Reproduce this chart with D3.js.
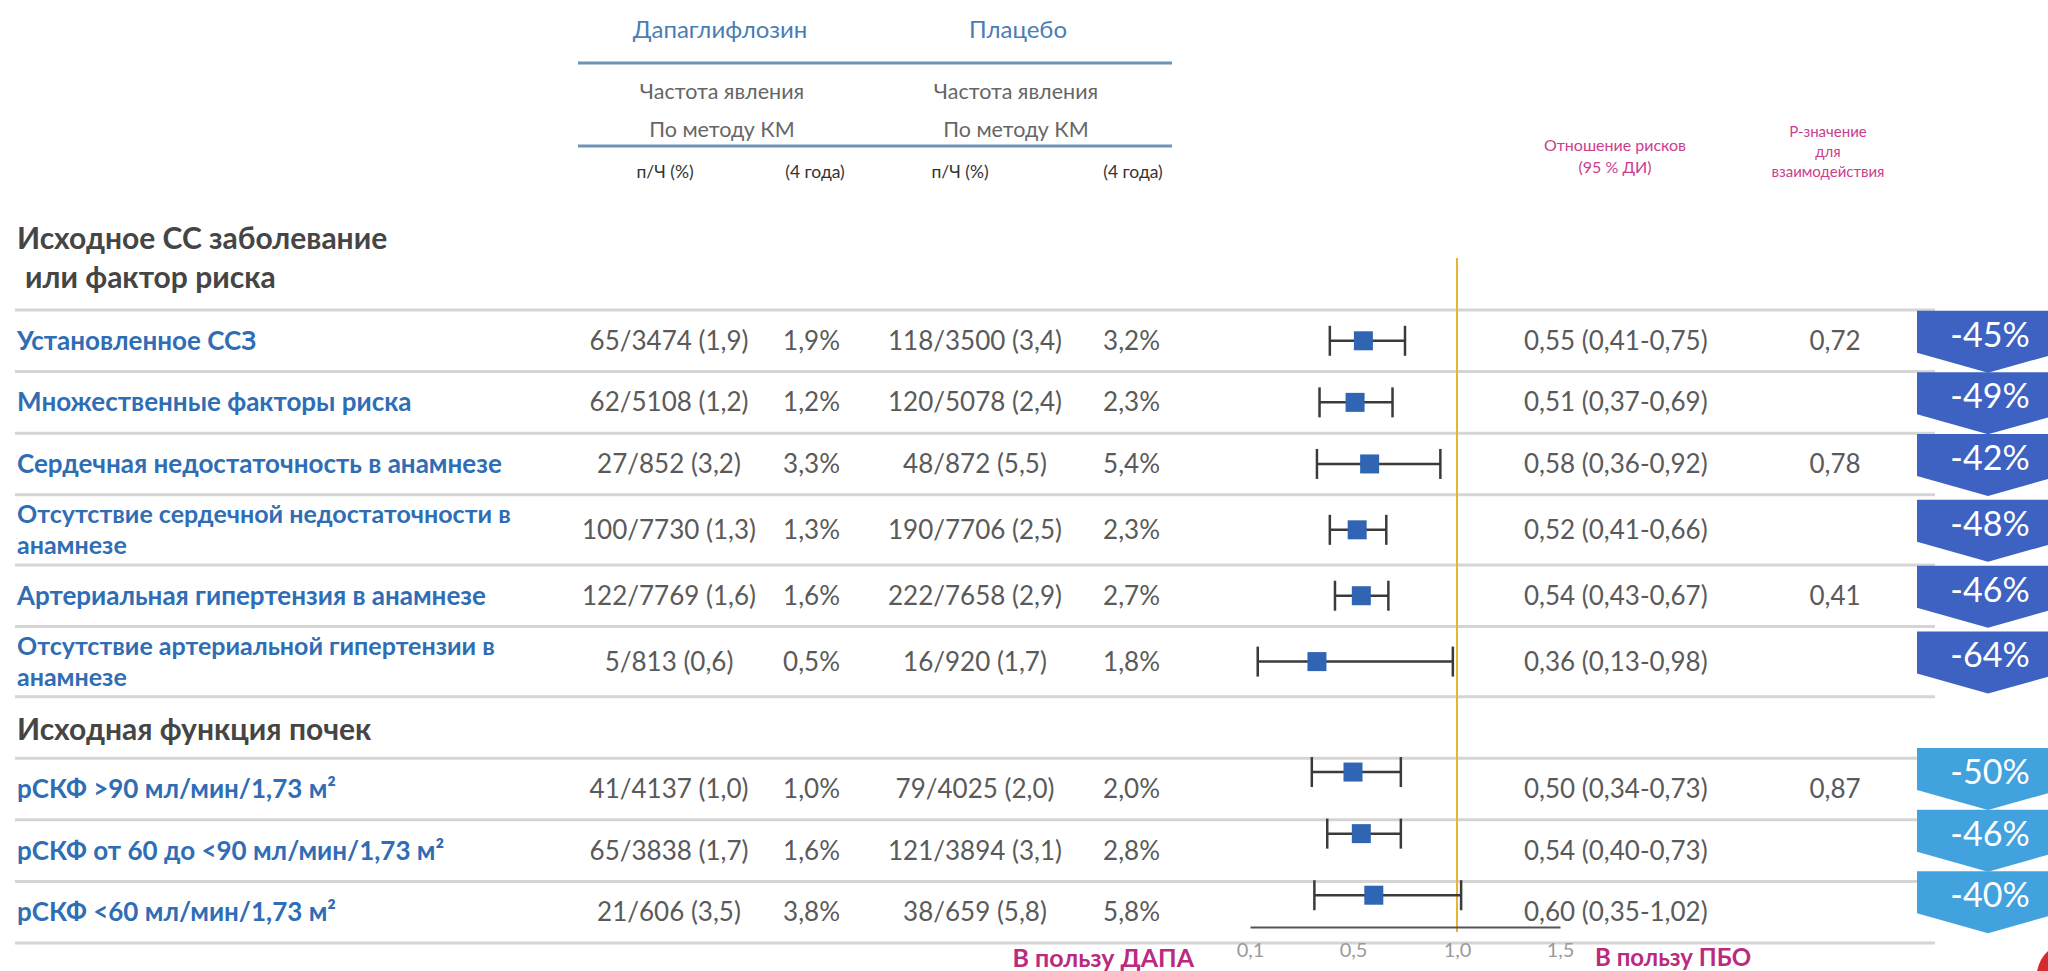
<!DOCTYPE html>
<html><head><meta charset="utf-8">
<script src="https://cdn.jsdelivr.net/npm/d3@7"></script>
<style>
html,body{margin:0;padding:0;background:#fff;}
svg{display:block;font-family:Lato,"Open Sans",sans-serif;}
</style></head><body>
<svg id="chart" width="2048" height="971"></svg>
<script>
// ---------- DATA ----------
const sectionTitles = [["Исходное СС заболевание", "или фактор риска"], ["Исходная функция почек"]];
const rowSection = [0, 0, 0, 0, 0, 0, 1, 1, 1];
const rowLabels = [
  ["Установленное ССЗ"],
  ["Множественные факторы риска"],
  ["Сердечная недостаточность в анамнезе"],
  ["Отсутствие сердечной недостаточности в", "анамнезе"],
  ["Артериальная гипертензия в анамнезе"],
  ["Отсутствие артериальной гипертензии в", "анамнезе"],
  ["рСКФ >90 мл/мин/1,73 м²"],
  ["рСКФ от 60 до <90 мл/мин/1,73 м²"],
  ["рСКФ <60 мл/мин/1,73 м²"]
];
const dapaEvents = [65, 62, 27, 100, 122, 5, 41, 65, 21];
const dapaTotal  = [3474, 5108, 852, 7730, 7769, 813, 4137, 3838, 606];
const dapaRate   = [1.9, 1.2, 3.2, 1.3, 1.6, 0.6, 1.0, 1.7, 3.5];
const dapaKM     = [1.9, 1.2, 3.3, 1.3, 1.6, 0.5, 1.0, 1.6, 3.8];
const pboEvents  = [118, 120, 48, 190, 222, 16, 79, 121, 38];
const pboTotal   = [3500, 5078, 872, 7706, 7658, 920, 4025, 3894, 659];
const pboRate    = [3.4, 2.4, 5.5, 2.5, 2.9, 1.7, 2.0, 3.1, 5.8];
const pboKM      = [3.2, 2.3, 5.4, 2.3, 2.7, 1.8, 2.0, 2.8, 5.8];
const hr   = [0.55, 0.51, 0.58, 0.52, 0.54, 0.36, 0.50, 0.54, 0.60];
const hrLo = [0.41, 0.37, 0.36, 0.41, 0.43, 0.13, 0.34, 0.40, 0.35];
const hrHi = [0.75, 0.69, 0.92, 0.66, 0.67, 0.98, 0.73, 0.73, 1.02];
const pInteraction = [0.72, null, 0.78, null, 0.41, null, 0.87, null, null];
const riskReduction = [-45, -49, -42, -48, -46, -64, -50, -46, -40];
const axisTicks = [0.1, 0.5, 1.0, 1.5];
const groupNames = ["Дапаглифлозин", "Плацебо"];
const subHeader = ["Частота явления", "По методу КМ"];
const colHeads = ["п/Ч (%)", "(4 года)"];
const hrHeader = ["Отношение рисков", "(95 % ДИ)"];
const pHeader = ["Р-значение", "для", "взаимодействия"];
const favourLabels = ["В пользу ДАПА", "В пользу ПБО"];

// ---------- SETUP ----------
const svg = d3.select("#chart");
const loc = d3.formatLocale({decimal: ",", thousands: " ", grouping: [3], currency: ["", ""]});
const f1 = loc.format(".1f"), f2 = loc.format(".2f");

const C = {
  label: "#2f6db5", section: "#454545", num: "#5a5a5a", head: "#4a7db6",
  sub: "#666", pink: "#cc3d8e", pinkDark: "#bb2a7e", rule: "#6d93b6",
  sep: "#d5d5d5", ci: "#3a3a3a", box: "#2f65b2", ref: "#e6b531",
  badge: ["#3e62c1", "#42a2de"]
};

const tableTop = 310, tableBottom = 943, sepX0 = 15, sepX1 = 1935;
const colX = {label: 17, dN: 669, dKM: 840, pN: 975, pKM: 1160, hr: 1524, hrHead: 1615, p: 1835, pHead: 1828, badge: 1917};

// bands
let u = 0; const bands = [];
rowSection.forEach((s, i) => {
  if (i > 0 && s !== rowSection[i - 1]) { bands.push({type: "section", s, u0: u, u1: u + 1}); u += 1; }
  const h = rowLabels[i].length > 1 ? 1.14 : 1;
  bands.push({type: "row", i, s, u0: u, u1: u + h}); u += h;
});
const y = d3.scaleLinear().domain([0, u]).range([tableTop, tableBottom]);
// axis in the reference has evenly spaced ticks: piecewise-linear scale through the tick values
const x = d3.scaleLinear().domain(axisTicks).range([1250, 1353, 1457, 1560]);
const rowY = i => { const b = bands.find(b => b.type === "row" && b.i === i); return y((b.u0 + b.u1) / 2); };
const markerShift = [0, -17];   // kidney-section markers sit higher in their rows
const badgeShift = [-6, -17];

// ---------- HEADER ----------
const hdr = svg.append("g");
[720, 1018].forEach((cx, k) => {
  hdr.append("text").attr("x", cx).attr("y", 30).attr("dy", "0.35em").attr("text-anchor", "middle")
    .attr("font-size", 24).attr("fill", C.head).text(groupNames[k]);
  subHeader.forEach((t, j) => hdr.append("text").attr("x", cx + (k ? -2 : 2)).attr("y", [91, 129][j]).attr("dy", "0.35em")
    .attr("text-anchor", "middle").attr("font-size", 21.5).attr("fill", C.sub).text(t));
});
[63, 146].forEach(yy => hdr.append("line").attr("x1", 578).attr("x2", 1172).attr("y1", yy).attr("y2", yy)
  .attr("stroke", C.rule).attr("stroke-width", 3));
[[665, 0], [815, 1], [960, 0], [1133, 1]].forEach(([cx, j]) => hdr.append("text").attr("x", cx).attr("y", 172)
  .attr("dy", "0.35em").attr("text-anchor", "middle").attr("font-size", 17.5).attr("fill", "#333").text(colHeads[j]));
hrHeader.forEach((t, j) => hdr.append("text").attr("x", colX.hrHead).attr("y", [145, 167][j]).attr("dy", "0.35em")
  .attr("text-anchor", "middle").attr("font-size", 16).attr("fill", C.pink).text(t));
pHeader.forEach((t, j) => hdr.append("text").attr("x", colX.pHead).attr("y", [132, 152, 172][j]).attr("dy", "0.35em")
  .attr("text-anchor", "middle").attr("font-size", 15).attr("fill", C.pink).text(t));

// first section title (above table)
sectionTitles[0].forEach((t, j) => svg.append("text").attr("x", colX.label + (j ? 8 : 0)).attr("y", tableTop - 72 + j * 39)
  .attr("dy", "0.35em").attr("font-size", 30).attr("font-weight", 700).attr("fill", C.section).text(t));

// ---------- SEPARATORS ----------
const sepYs = [0, ...bands.map(b => b.u1)];
svg.append("g").selectAll("line").data(sepYs).join("line")
  .attr("x1", sepX0).attr("x2", sepX1).attr("y1", d => y(d)).attr("y2", d => y(d))
  .attr("stroke", C.sep).attr("stroke-width", 3);

// section bands inside table
bands.filter(b => b.type === "section").forEach(b => {
  sectionTitles[b.s].forEach(t => svg.append("text").attr("x", colX.label).attr("y", y((b.u0 + b.u1) / 2) + 2)
    .attr("dy", "0.35em").attr("font-size", 30).attr("font-weight", 700).attr("fill", C.section).text(t));
});

// ---------- ROWS ----------
const rows = svg.append("g");
rowLabels.forEach((lines, i) => {
  const cy = rowY(i);
  const fs = lines.length > 1 ? 25 : 26;
  lines.forEach((t, j) => rows.append("text").attr("x", colX.label).attr("y", cy + (j - (lines.length - 1) / 2) * 31)
    .attr("dy", "0.35em").attr("font-size", fs).attr("font-weight", 700).attr("fill", C.label).text(t));
  const cell = (xx, anchor, txt) => rows.append("text").attr("x", xx).attr("y", cy).attr("dy", "0.35em")
    .attr("text-anchor", anchor).attr("font-size", 26).attr("fill", C.num).text(txt);
  cell(colX.dN, "middle", `${dapaEvents[i]}/${dapaTotal[i]} (${f1(dapaRate[i])})`);
  cell(colX.dKM, "end", `${f1(dapaKM[i])}%`);
  cell(colX.pN, "middle", `${pboEvents[i]}/${pboTotal[i]} (${f1(pboRate[i])})`);
  cell(colX.pKM, "end", `${f1(pboKM[i])}%`);
  cell(colX.hr, "start", `${f2(hr[i])} (${f2(hrLo[i])}-${f2(hrHi[i])})`);
  if (pInteraction[i] != null) cell(colX.p, "middle", f2(pInteraction[i]));
});

// ---------- FOREST ----------
const forest = svg.append("g");
forest.append("line").attr("x1", x(1)).attr("x2", x(1)).attr("y1", 258).attr("y2", 932)
  .attr("stroke", C.ref).attr("stroke-width", 2);
const axis = d3.axisBottom(x).tickValues(axisTicks).tickFormat(f1).tickSize(0).tickSizeOuter(0).tickPadding(16);
const ag = forest.append("g").attr("transform", `translate(0,927)`).call(axis);
ag.select(".domain").attr("stroke", "#555").attr("stroke-width", 2);
ag.selectAll("text").attr("font-size", 20).attr("fill", "#9a9a9a").attr("font-family", "Lato, sans-serif");

hr.forEach((v, i) => {
  const my = rowY(i) + markerShift[rowSection[i]];
  const g = forest.append("g");
  g.append("line").attr("x1", x(hrLo[i])).attr("x2", x(hrHi[i])).attr("y1", my).attr("y2", my)
    .attr("stroke", C.ci).attr("stroke-width", 2.5);
  [hrLo[i], hrHi[i]].forEach(e => g.append("line").attr("x1", x(e)).attr("x2", x(e)).attr("y1", my - 15).attr("y2", my + 15)
    .attr("stroke", C.ci).attr("stroke-width", 2.5));
  g.append("rect").attr("x", x(v) - 9.5).attr("y", my - 9.5).attr("width", 19).attr("height", 19).attr("fill", C.box);
});

// favour labels
svg.append("text").attr("x", 1194).attr("y", 958).attr("dy", "0.35em").attr("text-anchor", "end")
  .attr("font-size", 25).attr("font-weight", 700).attr("fill", C.pinkDark).text(favourLabels[0]);
svg.append("text").attr("x", 1595).attr("y", 958).attr("dy", "0.35em").attr("text-anchor", "start")
  .attr("font-size", 24).attr("font-weight", 700).attr("fill", C.pinkDark).text(favourLabels[1]);

// ---------- BADGES ----------
const bw = 142, bx = colX.badge;
riskReduction.forEach((r, i) => {
  const ty = rowY(i) + badgeShift[rowSection[i]];
  const top = ty - 24, side = ty + 18, tip = ty + 38;
  const p = d3.path();
  p.moveTo(bx, top); p.lineTo(bx + bw, top); p.lineTo(bx + bw, side); p.lineTo(bx + bw / 2, tip); p.lineTo(bx, side); p.closePath();
  svg.append("path").attr("d", p.toString()).attr("fill", C.badge[rowSection[i]]);
  svg.append("text").attr("x", bx + bw / 2 + 2).attr("y", ty).attr("dy", "0.35em").attr("text-anchor", "middle")
    .attr("font-size", 34).attr("fill", "#fff").text(`${r}%`);
});

// corner mark
svg.append("path").attr("d", "M2037,971 Q2040,958 2048,951 L2048,971 Z").attr("fill", "#d52a30");
</script>
</body></html>
